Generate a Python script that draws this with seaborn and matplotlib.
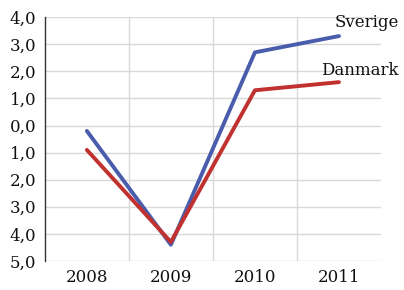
import pandas as pd
import numpy as np
import seaborn as sns
import matplotlib.pyplot as plt
from matplotlib.ticker import FixedLocator, FuncFormatter

years = ['2008', '2009', '2010', '2011']
sverige = [-0.2, -4.4, 2.7, 3.3]
danmark = [-0.9, -4.3, 1.3, 1.6]
series_names = ['Sverige', 'Danmark']
colors = ['#4a5cac', '#c0312f']

df = pd.DataFrame({
    'year': years * 2,
    'value': sverige + danmark,
    'land': [series_names[0]] * 4 + [series_names[1]] * 4,
})

sns.set_style('white')
plt.rcParams['font.family'] = ['DejaVu Serif']

fig = plt.figure(figsize=(4.04, 2.90), dpi=100)
ax = fig.add_axes([0.111, 0.10, 0.832, 0.841])

sns.lineplot(data=df, x='year', y='value', hue='land', palette=colors,
             linewidth=2.8, legend=False, ax=ax, sort=False)

ax.set_xlim(-0.5, 3.5)
ax.set_ylim(-5, 4)
ax.set_yticks(np.arange(-5, 4.1, 1))
ax.yaxis.set_major_formatter(FuncFormatter(lambda v, p: ('%.1f' % abs(v)).replace('.', ',')))
ax.xaxis.set_minor_locator(FixedLocator([0.5, 1.5, 2.5]))
ax.grid(True, axis='y', which='major', color='#d9d9d9', linewidth=1)
ax.grid(True, axis='x', which='minor', color='#d9d9d9', linewidth=1)
ax.set_axisbelow(True)
ax.set_xlabel('')
ax.set_ylabel('')
for s in ['top', 'right', 'bottom']:
    ax.spines[s].set_visible(False)
ax.spines['left'].set_color('#333333')
ax.spines['left'].set_linewidth(1)
ax.tick_params(axis='y', length=0, pad=6, labelsize=12, colors='#111111')
ax.tick_params(axis='x', which='both', length=0, pad=6, labelsize=12, colors='#111111')

ends = [sverige[-1], danmark[-1]]
offsets = [(60, 14), (60, 12)]
for name, v, off in zip(series_names, ends, offsets):
    ax.annotate(name, xy=(len(years) - 1, v), xytext=off, textcoords='offset pixels',
                ha='right', va='center', fontsize=12, color='#111111')

fig.savefig('out.png', dpi=100)
